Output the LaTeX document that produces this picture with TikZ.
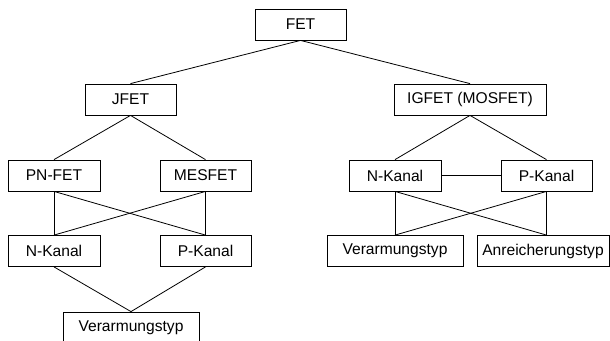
\documentclass[tikz,border=0pt]{standalone}
\usepackage{fontspec}
\setmainfont{Liberation Sans}
\begin{document}
\begin{tikzpicture}[x=1pt,y=-1pt,
  box/.style={draw, line width=0.8pt, inner sep=0pt, minimum height=31pt, font=\fontsize{15.6}{18}\selectfont},
  conn/.style={line width=0.8pt}]
\useasboundingbox (0,0) rectangle (610,340);
\node[box, minimum width=91pt] (fet) at (300.5,24.5) {FET};
\node[box, minimum width=91pt] (jfet) at (130.5,99.5) {JFET};
\node[box, minimum width=152pt] (igfet) at (470,99.5) {IGFET (MOSFET)};
\node[box, minimum width=92pt] (pn) at (54,175.5) {PN-FET};
\node[box, minimum width=91pt] (mes) at (205.5,175.5) {MESFET};
\node[box, minimum width=92pt] (nl) at (54,251) {N-Kanal};
\node[box, minimum width=91pt] (pl) at (205.5,251) {P-Kanal};
\node[box, minimum width=136pt] (vl) at (131,327.5) {Verarmungstyp};
\node[box, minimum width=92pt] (nr) at (395,175.5) {N-Kanal};
\node[box, minimum width=91pt] (pr) at (546.5,175.5) {P-Kanal};
\node[box, minimum width=136pt] (vr) at (395,251) {Verarmungstyp};
\node[box, minimum width=132pt] (ar) at (543,251) {Anreicherungstyp};
\coordinate (art) at (pr.south |- ar.north);
\draw[conn] (fet.south) -- (jfet.north);
\draw[conn] (fet.south) -- (igfet.north);
\draw[conn] (jfet.south) -- (pn.north);
\draw[conn] (jfet.south) -- (mes.north);
\draw[conn] (pn.south) -- (nl.north);
\draw[conn] (pn.south) -- (pl.north);
\draw[conn] (mes.south) -- (pl.north);
\draw[conn] (mes.south) -- (nl.north);
\draw[conn] (nl.south) -- (vl.north);
\draw[conn] (pl.south) -- (vl.north);
\draw[conn] (igfet.south) -- (nr.north);
\draw[conn] (igfet.south) -- (pr.north);
\draw[conn] (nr.east) -- (pr.west);
\draw[conn] (nr.south) -- (vr.north);
\draw[conn] (nr.south) -- (art);
\draw[conn] (pr.south) -- (art);
\draw[conn] (pr.south) -- (vr.north);
\end{tikzpicture}
\end{document}
